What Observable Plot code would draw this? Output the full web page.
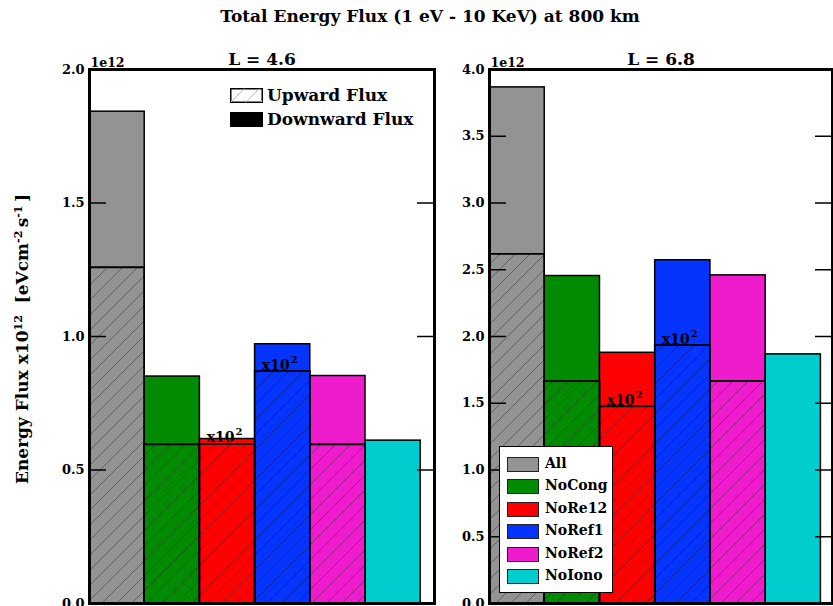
<!DOCTYPE html>
<html><head><meta charset="utf-8">
<script src="https://cdn.jsdelivr.net/npm/d3@7"></script>
<script src="https://cdn.jsdelivr.net/npm/@observablehq/plot@0.6"></script>
<style>
html,body{margin:0;padding:0;overflow:hidden;background:#fff;}
#wrap{position:relative;width:833px;height:606px;overflow:hidden;font-family:"DejaVu Serif",serif;font-weight:bold;color:#000;}
#wrap .abs{position:absolute;}
#title{left:0;width:860px;top:6px;text-align:center;font-size:17px;white-space:nowrap;}
#ylab{left:22px;top:339px;transform:translate(-50%,-50%) rotate(-90deg);font-size:17px;white-space:nowrap;}
#ylab sup{font-size:11px;}
.sw{position:absolute;box-sizing:border-box;}
.leg1 div.t{position:absolute;font-size:17px;white-space:nowrap;line-height:1;}
#leg2{left:499px;top:446px;width:114px;height:147px;box-sizing:border-box;border:1.5px solid #000;background:#fff;}
#leg2 .row{position:absolute;left:7px;height:15px;}
#leg2 .row .s{position:absolute;left:0;top:0;width:32px;height:15px;box-sizing:border-box;border:1.5px solid #222;}
#leg2 .row .t{position:absolute;left:38px;top:-2px;font-size:14px;white-space:nowrap;line-height:1.2;}
</style></head><body><div id="wrap"></div>
<script>
// ---- data (energy flux in units of 1e12 eV cm^-2 s^-1) ----
const runs = ["All", "NoCong", "NoRe12", "NoRef1", "NoRef2", "NoIono"];
const runColors = ["#939393", "#008b00", "#ff0000", "#0534ff", "#ee1ccc", "#00cdcd"];
const scaledRuns = ["NoRe12", "NoRef1"];          // upward flux shown x10^2
const upwardL46 = [1.257, 0.594, 0.596, 0.868, 0.594, 0];
const totalL46  = [1.842, 0.850, 0.616, 0.971, 0.852, 0.610];
const upwardL68 = [2.616, 1.661, 1.473, 1.931, 1.663, 0];
const totalL68  = [3.866, 2.453, 1.878, 2.571, 2.458, 1.866];
const ticksL46 = [0, 0.5, 1.0, 1.5, 2.0];
const ticksL68 = [0, 0.5, 1.0, 1.5, 2.0, 2.5, 3.0, 3.5, 4.0];
const panelTitles = ["L = 4.6", "L = 6.8"];
const mainTitle = "Total Energy Flux (1 eV - 10 KeV) at 800 km";
const offsetLabel = "1e12";
const scaleBase = "x10", scaleExp = "2";
const fluxLegend = ["Upward Flux", "Downward Flux"];

const FONT = '"DejaVu Serif", serif';
const wrap = document.getElementById("wrap");

function panel({title, up, total, yMax, yTicks, xMax, width, marginLeft, marginRight, hatchId, left}) {
  const bars = runs.map((r, i) => ({run: r, i, up: up[i], total: total[i], color: runColors[i]}));
  const scaled = bars.filter(d => scaledRuns.includes(d.run));
  const plotW = width - marginLeft - marginRight;
  const tickLen = 17;
  const inner = yTicks.filter(t => t > 0 && t < yMax);
  const svg = Plot.plot({
    width, height: 620, marginLeft, marginRight, marginTop: 69, marginBottom: 17,
    style: {fontFamily: FONT, fontWeight: "bold", fontSize: "13px", color: "#000", background: "transparent", overflow: "visible"},
    x: {domain: [0, xMax], axis: null},
    y: {domain: [0, yMax], ticks: yTicks, tickSize: 0, tickPadding: 5, tickFormat: d => d.toFixed(1), label: null},
    color: {type: "identity"},
    marks: [
      Plot.rect(bars, {x1: d => d.i, x2: d => d.i + 1, y1: d => d.up, y2: d => d.total, fill: d => d.color, stroke: "#000", strokeWidth: 1.5}),
      Plot.rect(bars.filter(d => d.up > 0), {x1: d => d.i, x2: d => d.i + 1, y1: 0, y2: d => d.up, fill: d => d.color, stroke: "#000", strokeWidth: 1.5}),
      Plot.rect(bars.filter(d => d.up > 0), {x1: d => d.i, x2: d => d.i + 1, y1: 0, y2: d => d.up, fill: `url(#${hatchId})`, stroke: "#000", strokeWidth: 1.5}),
      Plot.text(scaled, {x: d => d.i + 0.5, y: d => d.up, text: () => scaleBase, textAnchor: "end", lineAnchor: "bottom", dx: 7, dy: -2, fontSize: 14, fill: "#000"}),
      Plot.text(scaled, {x: d => d.i + 0.5, y: d => d.up, text: () => scaleExp, textAnchor: "start", lineAnchor: "bottom", dx: 8, dy: -9, fontSize: 10, fill: "#000"}),
      Plot.ruleY(inner, {y: d => d, insetRight: plotW - tickLen, stroke: "#000", strokeWidth: 1.5}),
      Plot.ruleY(inner, {y: d => d, insetLeft: plotW - tickLen, stroke: "#000", strokeWidth: 1.5}),
      Plot.text([title], {frameAnchor: "top", lineAnchor: "bottom", dy: -5, fontSize: 17, fill: "#000"}),
      Plot.text([offsetLabel], {frameAnchor: "top-left", textAnchor: "start", lineAnchor: "bottom", dx: 1, dy: -3, fontSize: 12.5, fill: "#000"}),
      Plot.frame({stroke: "#000", strokeWidth: 3})
    ]
  });
  const defs = d3.select(svg).insert("defs", ":first-child");
  const pat = defs.append("pattern").attr("id", hatchId).attr("patternUnits", "userSpaceOnUse").attr("width", 15).attr("height", 15);
  pat.append("path").attr("d", "M-1,16 L16,-1 M-4,4 L4,-4 M11,19 L19,11").attr("stroke", "rgba(0,0,0,0.35)").attr("stroke-width", 1).attr("fill", "none");
  svg.style.position = "absolute";
  svg.style.left = left + "px";
  svg.style.top = "0px";
  wrap.appendChild(svg);
}

panel({title: panelTitles[0], up: upwardL46, total: totalL46, yMax: 2, yTicks: ticksL46, xMax: 6.25, width: 440, marginLeft: 89, marginRight: 6, hatchId: "hatchA", left: 0});
panel({title: panelTitles[1], up: upwardL68, total: totalL68, yMax: 4, yTicks: ticksL68, xMax: 6.21, width: 394, marginLeft: 50, marginRight: 1, hatchId: "hatchB", left: 439});

// titles
const t = document.createElement("div"); t.className = "abs"; t.id = "title"; t.textContent = mainTitle; wrap.appendChild(t);
const yl = document.createElement("div"); yl.className = "abs"; yl.id = "ylab";
yl.innerHTML = 'Energy Flux x10<sup>12</sup> &nbsp;[eVcm<sup>-2</sup>&thinsp;s<sup>-1</sup>&thinsp;]'; wrap.appendChild(yl);

// flux legend (left panel)
const leg1 = document.createElement("div"); leg1.className = "leg1";
leg1.innerHTML =
  `<svg class="sw" style="left:230px;top:88px" width="33" height="15"><defs><pattern id="hatchLeg" patternUnits="userSpaceOnUse" width="15" height="15"><path d="M-1,16 L16,-1" stroke="#bbb" stroke-width="1"/></pattern></defs><rect x="0.75" y="0.75" width="31.5" height="13.5" fill="#fff" stroke="#000" stroke-width="1.5"/><rect x="0.75" y="0.75" width="31.5" height="13.5" fill="url(#hatchLeg)"/></svg>` +
  `<div class="t" style="position:absolute;left:267px;top:87px">${fluxLegend[0]}</div>` +
  `<div class="sw" style="left:230px;top:112px;width:33px;height:15px;background:#000"></div>` +
  `<div class="t" style="position:absolute;left:267px;top:111px">${fluxLegend[1]}</div>`;
wrap.appendChild(leg1);

// run legend (right panel)
const leg2 = document.createElement("div"); leg2.id = "leg2"; leg2.className = "abs";
leg2.innerHTML = runs.map((r, i) =>
  `<div class="row" style="top:${10 + i * 22.4}px"><div class="s" style="background:${runColors[i]}"></div><div class="t">${r}</div></div>`).join("");
wrap.appendChild(leg2);
</script></body></html>
